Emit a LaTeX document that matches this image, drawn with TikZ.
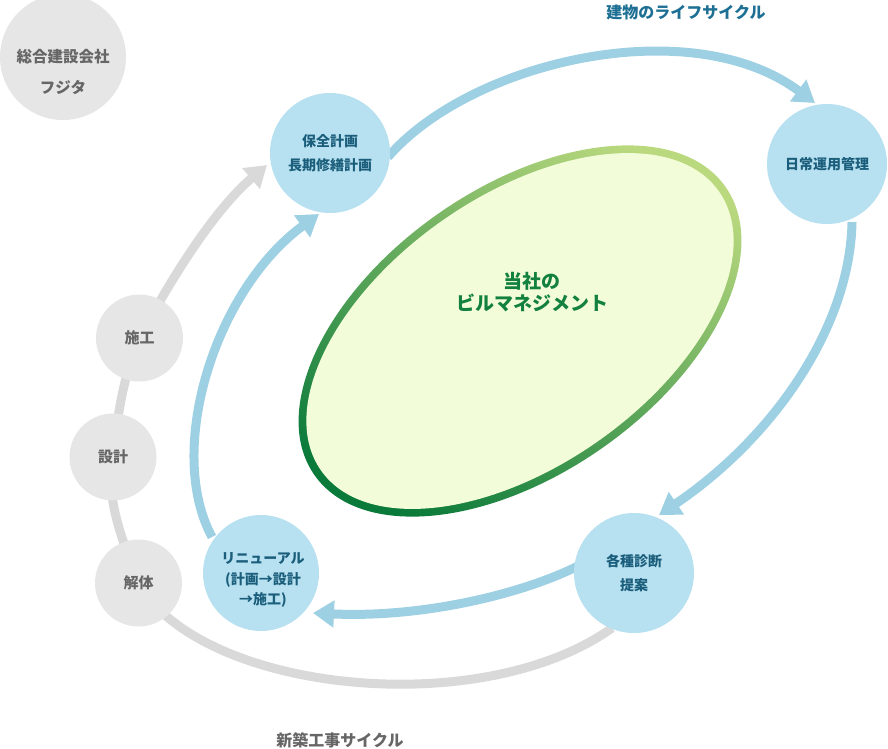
\documentclass[tikz,border=0pt]{standalone}
\usepackage{fontspec}
\setmainfont{Noto Sans CJK JP}
\usetikzlibrary{arrows.meta}
\definecolor{bluefill}{HTML}{B7E1F0}
\definecolor{bluearrow}{HTML}{9ED0E3}
\definecolor{bluetext}{HTML}{1B5E7C}
\definecolor{titleblue}{HTML}{1D6F94}
\definecolor{grayfill}{HTML}{E6E6E6}
\definecolor{grayline}{HTML}{D9D9D9}
\definecolor{graytext}{HTML}{666666}
\definecolor{ellfill}{HTML}{F3FCD8}
\definecolor{greenlight}{HTML}{BAD97E}
\definecolor{greendark}{HTML}{0A7A3A}
\definecolor{greentext}{HTML}{12803F}
\tikzset{
  bluenode/.style={circle, fill=bluefill, minimum size=120pt, inner sep=0pt, align=center,
    text=bluetext, font=\bfseries\fontsize{14}{24}\selectfont},
  graynode/.style={circle, fill=grayfill, minimum size=87pt, inner sep=0pt, align=center,
    text=graytext, font=\bfseries\fontsize{15}{20}\selectfont},
  bluearr/.style={draw=bluearrow, line width=9pt, -{Triangle[width=26pt,length=21pt]}},
  grayarr/.style={draw=grayline, line width=9pt},
}
\begin{document}
\begin{tikzpicture}[x=1pt,y=-1pt]
\useasboundingbox (0,0) rectangle (888,748);
% coordinates
\coordinate (kaitai) at (138.5,583);
\coordinate (sekkei) at (113,457);
\coordinate (sekou) at (139.5,338);
\coordinate (grtip) at (267,165);
\coordinate (shindanc) at (612,628);
% gray cycle lines
\draw[grayarr] (kaitai) .. controls (200,692) and (480,722) .. (shindanc);
\draw[grayarr] (kaitai) .. controls (118,530) and (106,495) .. (sekkei)
   .. controls (118,410) and (124,375) .. (sekou);
\draw[grayarr, -{Triangle[width=26pt,length=21pt]}] (sekou) .. controls (180,262) and (220,205) .. (grtip);
% blue arrows
\coordinate (b1s) at (388,157);
\coordinate (b1e) at (815,103);
\coordinate (b2s) at (852,222);
\coordinate (b2e) at (659,515);
\coordinate (b3s) at (578,566);
\coordinate (b3e) at (313,613);
\coordinate (b4s) at (212,537);
\coordinate (b4e) at (319,214);
\draw[bluearr] (b1s) .. controls (470,62) and (690,10) .. (b1e);
\draw[bluearr] (b2s) .. controls (850,330) and (770,440) .. (b2e);
\draw[bluearr] (b3s) .. controls (520,595) and (420,618) .. (b3e);
\draw[bluearr] (b4s) .. controls (165,450) and (215,290) .. (b4e);
% ellipse
\shade[top color=greenlight, bottom color=greendark, shading angle=-30]
  (520,331) ellipse[x radius=251pt, y radius=143pt, rotate=35];
\fill[ellfill] (520,331) ellipse[x radius=243pt, y radius=135pt, rotate=35];
\node (center) at (532,292) [align=center, text=greentext, font=\bfseries\fontsize{19}{22}\selectfont] {当社の\\ビルマネジメント};
% nodes
\node[circle, fill=grayfill, minimum size=126pt, inner sep=0pt] (fujita) at (63,57) {};
\node[align=center, text=graytext, font=\bfseries\fontsize{15.5}{31}\selectfont] (fujitatext) at (63,72) {総合建設会社\\フジタ};
\node[graynode] (n-sekou) at (sekou) {施工};
\node[graynode] (n-sekkei) at (sekkei) {設計};
\node[graynode] (n-kaitai) at (kaitai) {解体};
\node[bluenode] (hozen) at (330,153) {保全計画\\長期修繕計画};
\node[bluenode] (nichijo) at (827,164) {日常運用管理};
\node[bluenode, font=\bfseries\fontsize{14}{24}\selectfont] (shindan) at (634,573) {各種診断\\提案};
\node[circle, fill=bluefill, minimum size=116pt, inner sep=0pt] (renewal) at (261,573) {};
\node[align=center, text=bluetext, font=\bfseries\fontsize{14}{20.5}\selectfont] (renewaltext) at (263,580) {リニューアル\\(計画→設計\\→施工)};
% titles
\node (t1) at (686,12) [text=titleblue, font=\bfseries\fontsize{16}{18}\selectfont] {建物のライフサイクル};
\node (t2) at (340,740) [text=graytext, font=\bfseries\fontsize{16}{18}\selectfont] {新築工事サイクル};
\end{tikzpicture}
\end{document}
